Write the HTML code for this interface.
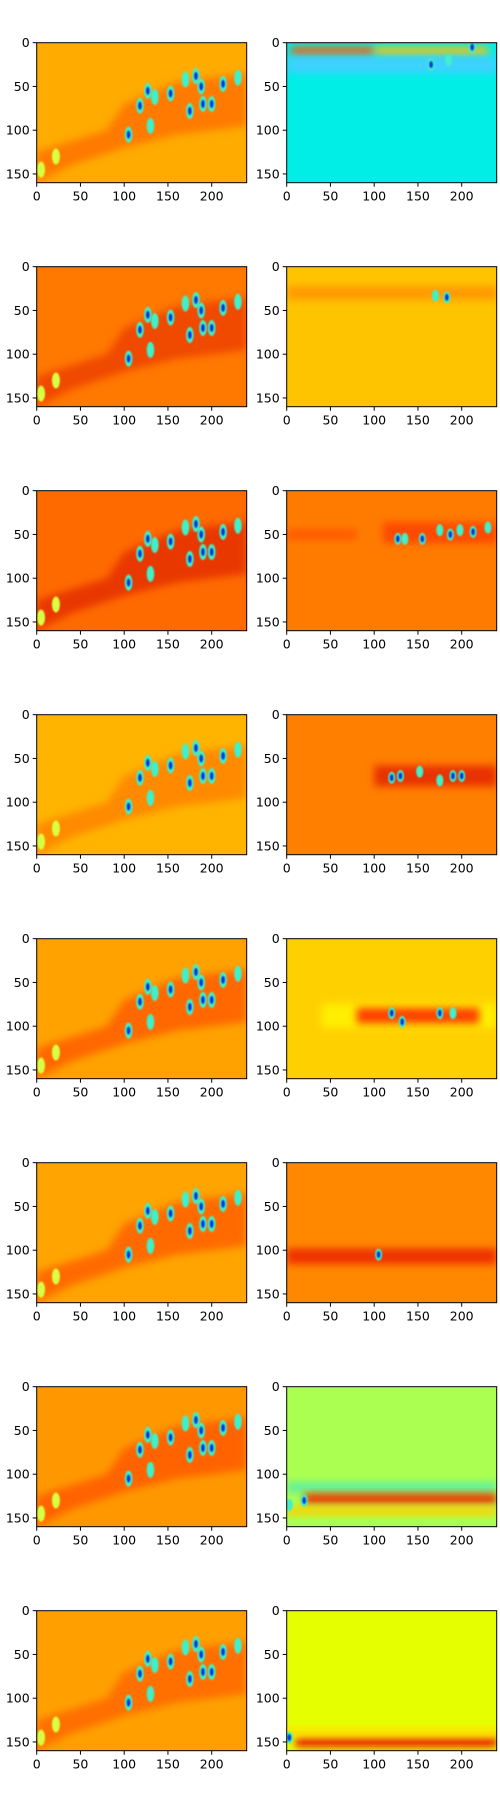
<!DOCTYPE html>
<html><head><meta charset="utf-8"><style>
body{margin:0;background:#fff;width:500px;height:1800px;overflow:hidden}
svg text{font-family:"DejaVu Sans","Liberation Sans",sans-serif;font-size:12.5px;fill:#000}
</style></head><body>
<svg id="fig" width="500" height="1800" xmlns="http://www.w3.org/2000/svg">
<defs>
<filter id="soft" x="-50%" y="-50%" width="200%" height="200%"><feGaussianBlur stdDeviation="4"/></filter>
<filter id="soft2" x="-50%" y="-50%" width="200%" height="200%"><feGaussianBlur stdDeviation="0.9"/></filter>
</defs>
</svg>
<script>
const xTicks=[0,50,100,150,200];
const yTicks=[0,50,100,150];
const leftBg=['#ffab00','#ff7800','#ff6a00','#ffb400','#ffa200','#ffa400','#ff9800','#ffa000'];
const leftBand=['#ff7a00','#f04800','#e83800','#ff8a00','#ff6800','#ff6a00','#ff6400','#ff7000'];
const leftRegionX=[0,0,80,100,160,240,240,160,100,40];
const leftRegionY=[160,125,100,70,45,35,95,105,120,140];
const leftBlobX=[105,118,127,135,130,153,175,170,182,188,190,200,213,230];
const leftBlobY=[105,72,55,62,95,58,78,42,38,50,70,70,47,40];
const leftBlobCore=[1,1,1,0,0,1,1,0,1,1,1,1,1,0];
const yellowX=[5,22];
const yellowY=[145,130];
const rightBg=['#00eee6','#ffc400','#ff7b00','#ff7f00','#ffd000','#ff8800','#aaff50','#e6ff00'];
const bandPanel=[0,0,0,1,2,2,3,4,4,5,6,6,6,7,7];
const bandX0=[5,100,0,0,0,110,100,40,80,0,0,20,0,10,0];
const bandX1=[100,230,240,240,80,240,240,240,220,240,240,240,240,240,240];
const bandY=[10,10,25,30,50,48,70,88,88,107,115,128,142,150,139];
const bandH=[5,5,10,8,6,12,12,14,9,9,6,6,5,6,5];
const bandColor=['#ff5a00','#ffc000','#40d0ff','#ff9a00','#ff5a00','#ff4a00','#e83000','#ffee00','#ff4000','#ee3000','#60f0a0','#ee3000','#ffd000','#ee2000','#ffe000'];
const blobPanel=[0,0,0,1,1,2,2,2,2,2,2,2,2,3,3,3,3,3,3,4,4,4,4,5,6,6,7];
const blobX=[212,165,185,183,170,127,135,155,175,187,198,213,230,120,130,152,175,190,200,120,132,175,190,105,20,3,3];
const blobY=[5,25,20,35,33,55,55,55,45,50,45,47,42,72,70,65,75,70,70,85,95,85,85,105,130,135,145];
const blobCore=[1,1,0,1,0,1,0,1,0,1,0,1,0,1,1,0,0,1,1,1,1,1,0,1,1,0,1];

const svg=document.getElementById('fig');
const NS='http://www.w3.org/2000/svg';
const PW=210,PH=140,X0=[36.7,286.7],Y0=42.7,DY=224;
function mk(t,a,p){const e=document.createElementNS(NS,t);for(const k in a)e.setAttribute(k,a[k]);p.appendChild(e);return e;}
function sx(px,v){return px+v*PW/240;}
function sy(py,v){return py+v*PH/160;}

for(let r=0;r<8;r++){
 for(let c=0;c<2;c++){
  const px=X0[c],py=Y0+r*DY;
  const g=mk('g',{},svg);
  
  
  const cid='clip'+r+'_'+c;
  const cp=mk('clipPath',{id:cid},g);mk('rect',{x:px,y:py,width:PW,height:PH},cp);
  const inner=mk('g',{'clip-path':'url(#'+cid+')'},g);
  if(c===0){
   mk('rect',{x:px,y:py,width:PW,height:PH,fill:leftBg[r]},inner);
   const pts=leftRegionX.map((v,i)=>sx(px,v)+','+sy(py,leftRegionY[i])).join(' ');
   const reg=mk('polygon',{points:pts,fill:leftBand[r],filter:'url(#soft)'},inner);
   
   
   for(let i=0;i<yellowX.length;i++){
    mk('ellipse',{cx:sx(px,yellowX[i]),cy:sy(py,yellowY[i]),rx:4,ry:8,fill:'#d8ff40',filter:'url(#soft2)'},inner);
   }
   for(let i=0;i<leftBlobX.length;i++){
    const b=mk('ellipse',{cx:sx(px,leftBlobX[i]),cy:sy(py,leftBlobY[i]),rx:3.8,ry:8,fill:'#40f0c8',filter:'url(#soft2)'},inner);
    
    
    if(leftBlobCore[i])mk('ellipse',{cx:sx(px,leftBlobX[i]),cy:sy(py,leftBlobY[i]),rx:1.8,ry:4,fill:'#0030e0',filter:'url(#soft2)'},inner);
   }
  }else{
   mk('rect',{x:px,y:py,width:PW,height:PH,fill:rightBg[r]},inner);
   for(let i=0;i<bandPanel.length;i++){
    if(bandPanel[i]!==r)continue;
    const b=mk('rect',{x:sx(px,bandX0[i]),y:sy(py,bandY[i]-bandH[i]),width:sx(px,bandX1[i])-sx(px,bandX0[i]),height:sy(py,bandY[i]+bandH[i])-sy(py,bandY[i]-bandH[i]),fill:bandColor[i],filter:'url(#soft)'},inner);
    
    
   }
   for(let i=0;i<blobPanel.length;i++){
    if(blobPanel[i]!==r)continue;
    const b=mk('ellipse',{cx:sx(px,blobX[i]),cy:sy(py,blobY[i]),rx:3.5,ry:6,fill:'#40f0c8',filter:'url(#soft2)'},inner);
    
    
    if(blobCore[i])mk('ellipse',{cx:sx(px,blobX[i]),cy:sy(py,blobY[i]),rx:1.8,ry:3.5,fill:'#0030e0',filter:'url(#soft2)'},inner);
   }
  }
  mk('rect',{x:px,y:py,width:PW,height:PH,fill:'none',stroke:'#000','stroke-width':1},g);
  xTicks.forEach(v=>{
   const x=sx(px,v);
   mk('line',{x1:x,x2:x,y1:py+PH,y2:py+PH+4,stroke:'#000'},g);
   const t=mk('text',{x:x,y:py+PH+18,'text-anchor':'middle'},g);t.textContent=v;
   
   
  });
  yTicks.forEach(v=>{
   const y=sy(py,v);
   mk('line',{x1:px-4,x2:px,y1:y,y2:y,stroke:'#000'},g);
   const t=mk('text',{x:px-7,y:y+4.5,'text-anchor':'end'},g);t.textContent=v;
   
   
  });
 }
}
</script>
</body></html>
